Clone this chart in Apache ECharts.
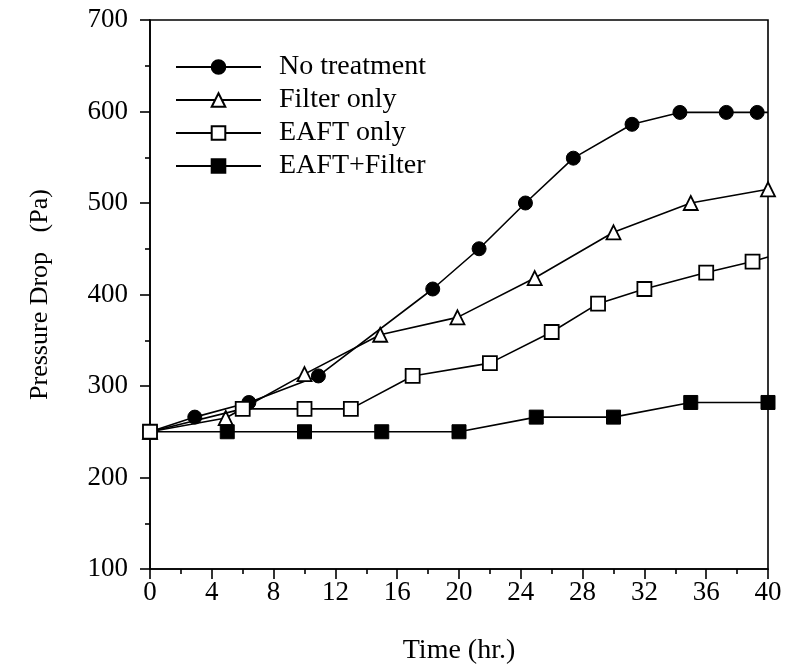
<!DOCTYPE html>
<html>
<head>
<meta charset="utf-8">
<script src="https://cdn.jsdelivr.net/npm/echarts@6/dist/echarts.min.js"></script>
<style>
  html, body { margin: 0; padding: 0; background: #fff; }
  #chart { width: 792px; height: 670px; }
</style>
</head>
<body>
<div id="chart"></div>
<script>
// values: [time (hr.), pressure drop (Pa)]
var noTreatment = [[0, 250], [2.9, 266], [6.4, 282], [10.9, 311], [18.3, 406], [21.3, 450],
  [24.3, 500], [27.4, 549], [31.2, 586], [34.3, 599], [37.3, 599], [39.3, 599],
  { value: [40, 599], symbol: 'none' }];
var filterOnly = [[0, 250], [4.9, 265], [10, 313], [14.9, 356], [19.9, 375], [24.9, 418],
  [30, 468], [35, 500], [40, 515]];
var eaftOnly = [[0, 250], [6, 275], [10, 275], [13, 275], [17, 311], [22, 325], [26, 359],
  [29, 390], [32, 406], [36, 424], [39, 436], { value: [40, 441], symbol: 'none' }];
var eaftFilter = [[0, 250], [5, 250], [10, 250], [15, 250], [20, 250], [25, 266], [30, 266],
  [35, 282], [40, 282]];
var legendNames = ['No treatment', 'Filter only', 'EAFT only', 'EAFT+Filter'];

var font = 'Liberation Serif, Times New Roman, serif';
var chart = echarts.init(document.getElementById('chart'));

var lineStyle = { color: '#000', width: 1.6 };

chart.setOption({
  animation: false,
  backgroundColor: '#fff',
  textStyle: { fontFamily: font, color: '#000' },
  grid: {
    left: 150, right: 24, top: 20, bottom: 100,
    show: true, borderColor: '#000', borderWidth: 1.6
  },
  legend: {
    orient: 'vertical',
    left: 170,
    top: 48,
    data: legendNames,
    itemWidth: 85,
    itemHeight: 17,
    itemGap: 5,
    textStyle: { fontFamily: font, fontSize: 28, color: '#000', lineHeight: 28, padding: [0, 0, 0, 13] }
  },
  xAxis: {
    type: 'value',
    min: 0, max: 40, interval: 4,
    name: 'Time (hr.)',
    nameLocation: 'middle',
    nameGap: 68,
    nameTextStyle: { fontFamily: font, fontSize: 28, color: '#000' },
    axisLine: { lineStyle: { color: '#000', width: 1.6 } },
    axisTick: { inside: false, length: 10, lineStyle: { color: '#000', width: 1.6 } },
    minorTick: { show: true, splitNumber: 2, length: 5, lineStyle: { color: '#000', width: 1.6 } },
    axisLabel: { margin: 10, fontFamily: font, fontSize: 27, color: '#000' },
    splitLine: { show: false }
  },
  yAxis: {
    type: 'value',
    min: 100, max: 700, interval: 100,
    name: 'Pressure Drop   (Pa)',
    nameLocation: 'middle',
    nameGap: 97,
    nameTextStyle: { fontFamily: font, fontSize: 26, color: '#000' },
    axisLine: { show: true, lineStyle: { color: '#000', width: 1.6 } },
    axisTick: { inside: false, length: 10, lineStyle: { color: '#000', width: 1.6 } },
    minorTick: { show: true, splitNumber: 2, length: 5, lineStyle: { color: '#000', width: 1.6 } },
    axisLabel: { margin: 22, fontFamily: font, fontSize: 27, color: '#000' },
    splitLine: { show: false }
  },
  series: [
    {
      name: 'No treatment', type: 'line', data: noTreatment,
      symbol: 'circle', symbolSize: 14, showAllSymbol: true,
      lineStyle: lineStyle,
      itemStyle: { color: '#000', borderColor: '#000', borderWidth: 1 },
      z: 2
    },
    {
      name: 'Filter only', type: 'line', data: filterOnly,
      symbol: 'triangle', symbolSize: 14, showAllSymbol: true,
      lineStyle: lineStyle,
      itemStyle: { color: '#fff', borderColor: '#000', borderWidth: 1.8 },
      z: 3
    },
    {
      name: 'EAFT+Filter', type: 'line', data: eaftFilter,
      symbol: 'rect', symbolSize: 14, showAllSymbol: true,
      lineStyle: lineStyle,
      itemStyle: { color: '#000', borderColor: '#000', borderWidth: 1 },
      z: 4
    },
    {
      name: 'EAFT only', type: 'line', data: eaftOnly,
      symbol: 'rect', symbolSize: 14, showAllSymbol: true,
      lineStyle: lineStyle,
      itemStyle: { color: '#fff', borderColor: '#000', borderWidth: 1.8 },
      z: 5
    }
  ]
});
</script>
</body>
</html>
